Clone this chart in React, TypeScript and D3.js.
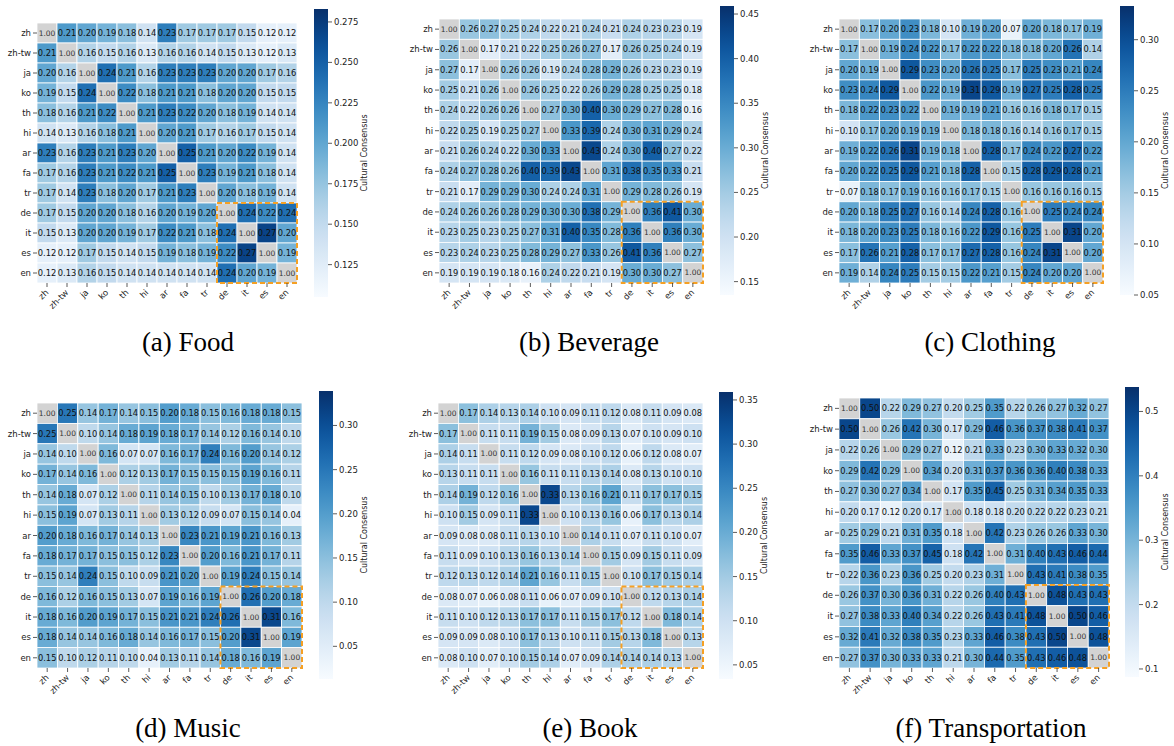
import * as d3 from 'd3';

// languages on both axes
const languages = ['zh', 'zh-tw', 'ja', 'ko', 'th', 'hi', 'ar', 'fa', 'tr', 'de', 'it', 'es', 'en'];
const highlighted = ['de', 'it', 'es', 'en'];

const foodValues = [
  [1.00, 0.21, 0.20, 0.19, 0.18, 0.14, 0.23, 0.17, 0.17, 0.17, 0.15, 0.12, 0.12],
  [0.21, 1.00, 0.16, 0.15, 0.16, 0.13, 0.16, 0.16, 0.14, 0.15, 0.13, 0.12, 0.13],
  [0.20, 0.16, 1.00, 0.24, 0.21, 0.16, 0.23, 0.23, 0.23, 0.20, 0.20, 0.17, 0.16],
  [0.19, 0.15, 0.24, 1.00, 0.22, 0.18, 0.21, 0.21, 0.18, 0.20, 0.20, 0.15, 0.15],
  [0.18, 0.16, 0.21, 0.22, 1.00, 0.21, 0.23, 0.22, 0.20, 0.18, 0.19, 0.14, 0.14],
  [0.14, 0.13, 0.16, 0.18, 0.21, 1.00, 0.20, 0.21, 0.17, 0.16, 0.17, 0.15, 0.14],
  [0.23, 0.16, 0.23, 0.21, 0.23, 0.20, 1.00, 0.25, 0.21, 0.20, 0.22, 0.19, 0.14],
  [0.17, 0.16, 0.23, 0.21, 0.22, 0.21, 0.25, 1.00, 0.23, 0.19, 0.21, 0.18, 0.14],
  [0.17, 0.14, 0.23, 0.18, 0.20, 0.17, 0.21, 0.23, 1.00, 0.20, 0.18, 0.19, 0.14],
  [0.17, 0.15, 0.20, 0.20, 0.18, 0.16, 0.20, 0.19, 0.20, 1.00, 0.24, 0.22, 0.24],
  [0.15, 0.13, 0.20, 0.20, 0.19, 0.17, 0.22, 0.21, 0.18, 0.24, 1.00, 0.27, 0.20],
  [0.12, 0.12, 0.17, 0.15, 0.14, 0.15, 0.19, 0.18, 0.19, 0.22, 0.27, 1.00, 0.19],
  [0.12, 0.13, 0.16, 0.15, 0.14, 0.14, 0.14, 0.14, 0.14, 0.24, 0.20, 0.19, 1.00],
];

const beverageValues = [
  [1.00, 0.26, 0.27, 0.25, 0.24, 0.22, 0.21, 0.24, 0.21, 0.24, 0.23, 0.23, 0.19],
  [0.26, 1.00, 0.17, 0.21, 0.22, 0.25, 0.26, 0.27, 0.17, 0.26, 0.25, 0.24, 0.19],
  [0.27, 0.17, 1.00, 0.26, 0.26, 0.19, 0.24, 0.28, 0.29, 0.26, 0.23, 0.23, 0.19],
  [0.25, 0.21, 0.26, 1.00, 0.26, 0.25, 0.22, 0.26, 0.29, 0.28, 0.25, 0.25, 0.18],
  [0.24, 0.22, 0.26, 0.26, 1.00, 0.27, 0.30, 0.40, 0.30, 0.29, 0.27, 0.28, 0.16],
  [0.22, 0.25, 0.19, 0.25, 0.27, 1.00, 0.33, 0.39, 0.24, 0.30, 0.31, 0.29, 0.24],
  [0.21, 0.26, 0.24, 0.22, 0.30, 0.33, 1.00, 0.43, 0.24, 0.30, 0.40, 0.27, 0.22],
  [0.24, 0.27, 0.28, 0.26, 0.40, 0.39, 0.43, 1.00, 0.31, 0.38, 0.35, 0.33, 0.21],
  [0.21, 0.17, 0.29, 0.29, 0.30, 0.24, 0.24, 0.31, 1.00, 0.29, 0.28, 0.26, 0.19],
  [0.24, 0.26, 0.26, 0.28, 0.29, 0.30, 0.30, 0.38, 0.29, 1.00, 0.36, 0.41, 0.30],
  [0.23, 0.25, 0.23, 0.25, 0.27, 0.31, 0.40, 0.35, 0.28, 0.36, 1.00, 0.36, 0.30],
  [0.23, 0.24, 0.23, 0.25, 0.28, 0.29, 0.27, 0.33, 0.26, 0.41, 0.36, 1.00, 0.27],
  [0.19, 0.19, 0.19, 0.18, 0.16, 0.24, 0.22, 0.21, 0.19, 0.30, 0.30, 0.27, 1.00],
];

const clothingValues = [
  [1.00, 0.17, 0.20, 0.23, 0.18, 0.10, 0.19, 0.20, 0.07, 0.20, 0.18, 0.17, 0.19],
  [0.17, 1.00, 0.19, 0.24, 0.22, 0.17, 0.22, 0.22, 0.18, 0.18, 0.20, 0.26, 0.14],
  [0.20, 0.19, 1.00, 0.29, 0.23, 0.20, 0.26, 0.25, 0.17, 0.25, 0.23, 0.21, 0.24],
  [0.23, 0.24, 0.29, 1.00, 0.22, 0.19, 0.31, 0.29, 0.19, 0.27, 0.25, 0.28, 0.25],
  [0.18, 0.22, 0.23, 0.22, 1.00, 0.19, 0.19, 0.21, 0.16, 0.16, 0.18, 0.17, 0.15],
  [0.10, 0.17, 0.20, 0.19, 0.19, 1.00, 0.18, 0.18, 0.16, 0.14, 0.16, 0.17, 0.15],
  [0.19, 0.22, 0.26, 0.31, 0.19, 0.18, 1.00, 0.28, 0.17, 0.24, 0.22, 0.27, 0.22],
  [0.20, 0.22, 0.25, 0.29, 0.21, 0.18, 0.28, 1.00, 0.15, 0.28, 0.29, 0.28, 0.21],
  [0.07, 0.18, 0.17, 0.19, 0.16, 0.16, 0.17, 0.15, 1.00, 0.16, 0.16, 0.16, 0.15],
  [0.20, 0.18, 0.25, 0.27, 0.16, 0.14, 0.24, 0.28, 0.16, 1.00, 0.25, 0.24, 0.24],
  [0.18, 0.20, 0.23, 0.25, 0.18, 0.16, 0.22, 0.29, 0.16, 0.25, 1.00, 0.31, 0.20],
  [0.17, 0.26, 0.21, 0.28, 0.17, 0.17, 0.27, 0.28, 0.16, 0.24, 0.31, 1.00, 0.20],
  [0.19, 0.14, 0.24, 0.25, 0.15, 0.15, 0.22, 0.21, 0.15, 0.24, 0.20, 0.20, 1.00],
];

const musicValues = [
  [1.00, 0.25, 0.14, 0.17, 0.14, 0.15, 0.20, 0.18, 0.15, 0.16, 0.18, 0.18, 0.15],
  [0.25, 1.00, 0.10, 0.14, 0.18, 0.19, 0.18, 0.17, 0.14, 0.12, 0.16, 0.14, 0.10],
  [0.14, 0.10, 1.00, 0.16, 0.07, 0.07, 0.16, 0.17, 0.24, 0.16, 0.20, 0.14, 0.12],
  [0.17, 0.14, 0.16, 1.00, 0.12, 0.13, 0.17, 0.15, 0.15, 0.15, 0.19, 0.16, 0.11],
  [0.14, 0.18, 0.07, 0.12, 1.00, 0.11, 0.14, 0.15, 0.10, 0.13, 0.17, 0.18, 0.10],
  [0.15, 0.19, 0.07, 0.13, 0.11, 1.00, 0.13, 0.12, 0.09, 0.07, 0.15, 0.14, 0.04],
  [0.20, 0.18, 0.16, 0.17, 0.14, 0.13, 1.00, 0.23, 0.21, 0.19, 0.21, 0.16, 0.13],
  [0.18, 0.17, 0.17, 0.15, 0.15, 0.12, 0.23, 1.00, 0.20, 0.16, 0.21, 0.17, 0.11],
  [0.15, 0.14, 0.24, 0.15, 0.10, 0.09, 0.21, 0.20, 1.00, 0.19, 0.24, 0.15, 0.14],
  [0.16, 0.12, 0.16, 0.15, 0.13, 0.07, 0.19, 0.16, 0.19, 1.00, 0.26, 0.20, 0.18],
  [0.18, 0.16, 0.20, 0.19, 0.17, 0.15, 0.21, 0.21, 0.24, 0.26, 1.00, 0.31, 0.16],
  [0.18, 0.14, 0.14, 0.16, 0.18, 0.14, 0.16, 0.17, 0.15, 0.20, 0.31, 1.00, 0.19],
  [0.15, 0.10, 0.12, 0.11, 0.10, 0.04, 0.13, 0.11, 0.14, 0.18, 0.16, 0.19, 1.00],
];

const bookValues = [
  [1.00, 0.17, 0.14, 0.13, 0.14, 0.10, 0.09, 0.11, 0.12, 0.08, 0.11, 0.09, 0.08],
  [0.17, 1.00, 0.11, 0.11, 0.19, 0.15, 0.08, 0.09, 0.13, 0.07, 0.10, 0.09, 0.10],
  [0.14, 0.11, 1.00, 0.11, 0.12, 0.09, 0.08, 0.10, 0.12, 0.06, 0.12, 0.08, 0.07],
  [0.13, 0.11, 0.11, 1.00, 0.16, 0.11, 0.11, 0.13, 0.14, 0.08, 0.13, 0.10, 0.10],
  [0.14, 0.19, 0.12, 0.16, 1.00, 0.33, 0.13, 0.16, 0.21, 0.11, 0.17, 0.17, 0.15],
  [0.10, 0.15, 0.09, 0.11, 0.33, 1.00, 0.10, 0.13, 0.16, 0.06, 0.17, 0.13, 0.14],
  [0.09, 0.08, 0.08, 0.11, 0.13, 0.10, 1.00, 0.14, 0.11, 0.07, 0.11, 0.10, 0.07],
  [0.11, 0.09, 0.10, 0.13, 0.16, 0.13, 0.14, 1.00, 0.15, 0.09, 0.15, 0.11, 0.09],
  [0.12, 0.13, 0.12, 0.14, 0.21, 0.16, 0.11, 0.15, 1.00, 0.10, 0.17, 0.15, 0.14],
  [0.08, 0.07, 0.06, 0.08, 0.11, 0.06, 0.07, 0.09, 0.10, 1.00, 0.12, 0.13, 0.14],
  [0.11, 0.10, 0.12, 0.13, 0.17, 0.17, 0.11, 0.15, 0.17, 0.12, 1.00, 0.18, 0.14],
  [0.09, 0.09, 0.08, 0.10, 0.17, 0.13, 0.10, 0.11, 0.15, 0.13, 0.18, 1.00, 0.13],
  [0.08, 0.10, 0.07, 0.10, 0.15, 0.14, 0.07, 0.09, 0.14, 0.14, 0.14, 0.13, 1.00],
];

const transportValues = [
  [1.00, 0.50, 0.22, 0.29, 0.27, 0.20, 0.25, 0.35, 0.22, 0.26, 0.27, 0.32, 0.27],
  [0.50, 1.00, 0.26, 0.42, 0.30, 0.17, 0.29, 0.46, 0.36, 0.37, 0.38, 0.41, 0.37],
  [0.22, 0.26, 1.00, 0.29, 0.27, 0.12, 0.21, 0.33, 0.23, 0.30, 0.33, 0.32, 0.30],
  [0.29, 0.42, 0.29, 1.00, 0.34, 0.20, 0.31, 0.37, 0.36, 0.36, 0.40, 0.38, 0.33],
  [0.27, 0.30, 0.27, 0.34, 1.00, 0.17, 0.35, 0.45, 0.25, 0.31, 0.34, 0.35, 0.33],
  [0.20, 0.17, 0.12, 0.20, 0.17, 1.00, 0.18, 0.18, 0.20, 0.22, 0.22, 0.23, 0.21],
  [0.25, 0.29, 0.21, 0.31, 0.35, 0.18, 1.00, 0.42, 0.23, 0.26, 0.26, 0.33, 0.30],
  [0.35, 0.46, 0.33, 0.37, 0.45, 0.18, 0.42, 1.00, 0.31, 0.40, 0.43, 0.46, 0.44],
  [0.22, 0.36, 0.23, 0.36, 0.25, 0.20, 0.23, 0.31, 1.00, 0.43, 0.41, 0.38, 0.35],
  [0.26, 0.37, 0.30, 0.36, 0.31, 0.22, 0.26, 0.40, 0.43, 1.00, 0.48, 0.43, 0.43],
  [0.27, 0.38, 0.33, 0.40, 0.34, 0.22, 0.26, 0.43, 0.41, 0.48, 1.00, 0.50, 0.46],
  [0.32, 0.41, 0.32, 0.38, 0.35, 0.23, 0.33, 0.46, 0.38, 0.43, 0.50, 1.00, 0.48],
  [0.27, 0.37, 0.30, 0.33, 0.33, 0.21, 0.30, 0.44, 0.35, 0.43, 0.46, 0.48, 1.00],
];

const captions = ['(a) Food', '(b) Beverage', '(c) Clothing', '(d) Music', '(e) Book', '(f) Transportation'];
const colorDomains = [
  [0.105, 0.283],
  [0.135, 0.459],
  [0.05, 0.333],
  [0.013, 0.339],
  [0.034, 0.359],
  [0.0875, 0.538],
];
const colorTicks = [
  [0.125, 0.15, 0.175, 0.2, 0.225, 0.25, 0.275],
  [0.15, 0.2, 0.25, 0.3, 0.35, 0.4, 0.45],
  [0.05, 0.1, 0.15, 0.2, 0.25, 0.3],
  [0.05, 0.1, 0.15, 0.2, 0.25, 0.3],
  [0.05, 0.1, 0.15, 0.2, 0.25, 0.3, 0.35],
  [0.1, 0.2, 0.3, 0.4, 0.5],
];
const tickFormats = ['.3f', '.2f', '.2f', '.2f', '.2f', '.1f'];
const matrices = [foodValues, beverageValues, clothingValues, musicValues, bookValues, transportValues];

// where each panel sits on the page
const layout = [
  { gx: 37, gy: 23, size: 260, cbx: 314, cby: 9, cbh: 288, capX: 188, capY: 351 },
  { gx: 439, gy: 19, size: 264, cbx: 720, cby: 6, cbh: 289, capX: 589, capY: 351 },
  { gx: 839, gy: 19, size: 264, cbx: 1120, cby: 6, cbh: 289, capX: 990, capY: 351 },
  { gx: 37, gy: 403, size: 265, cbx: 319, cby: 391, cbh: 288, capX: 188, capY: 737 },
  { gx: 438, gy: 403, size: 265, cbx: 719, cby: 392, cbh: 287, capX: 590, capY: 737 },
  { gx: 839, gy: 398, size: 270, cbx: 1125, cby: 387, cbh: 290, capX: 991, capY: 737 },
];

const FONT = 'DejaVu Sans, sans-serif';

function Heatmap({ idx }: { idx: number }) {
  const m = matrices[idx];
  const L = layout[idx];
  const [vmin, vmax] = colorDomains[idx];
  const color = d3.scaleSequential(d3.interpolateBlues).domain([vmin, vmax]);
  const band = d3.scaleBand().domain(languages).range([0, L.size]);
  const bw = band.bandwidth();
  const fmt = d3.format(tickFormats[idx]);
  const cbw = 14;
  const cbScale = d3.scaleLinear().domain([vmin, vmax]).range([L.cby + L.cbh, L.cby]);
  const gradId = `grad${idx}`;
  const stops = d3.range(0, 1.0001, 0.05);
  const labelChars = fmt(colorTicks[idx][0]).length;
  const hx = band(highlighted[0])!;

  return (
    <g>
      <defs>
        <linearGradient id={gradId} x1="0" y1="1" x2="0" y2="0">
          {stops.map(t => (
            <stop key={t} offset={t} stopColor={d3.interpolateBlues(t)} />
          ))}
        </linearGradient>
      </defs>
      <g transform={`translate(${L.gx},${L.gy})`}>
        {m.map((row, i) =>
          row.map((v, j) => {
            const x = band(languages[j])!;
            const y = band(languages[i])!;
            const diag = i === j;
            return (
              <g key={`${i}-${j}`}>
                <rect x={x} y={y} width={bw} height={bw} fill={diag ? '#d3d3d3' : color(v)} stroke="#fff" strokeWidth={0.8} />
                <text
                  x={x + bw / 2}
                  y={y + bw / 2}
                  textAnchor="middle"
                  dominantBaseline="central"
                  fontFamily={FONT}
                  fontSize={diag ? 7.5 : 8.3}
                  fill={diag ? '#333' : '#111'}
                >
                  {d3.format('.2f')(v)}
                </text>
              </g>
            );
          })
        )}
        <rect
          x={hx}
          y={hx}
          width={L.size - hx}
          height={L.size - hx}
          fill="none"
          stroke="#f5a024"
          strokeWidth={2}
          strokeDasharray="5,3"
        />
        {languages.map(l => (
          <g key={'r' + l}>
            <line x1={-4} x2={0} y1={band(l)! + bw / 2} y2={band(l)! + bw / 2} stroke="#333" strokeWidth={0.8} />
            <text x={-6} y={band(l)! + bw / 2} textAnchor="end" dominantBaseline="central" fontFamily={FONT} fontSize={8.5} fill="#222">
              {l}
            </text>
          </g>
        ))}
        {languages.map(l => {
          const cx = band(l)! + bw / 2;
          return (
            <g key={'c' + l}>
              <line x1={cx} x2={cx} y1={L.size} y2={L.size + 4} stroke="#333" strokeWidth={0.8} />
              <text
                transform={`translate(${cx + 2},${L.size + 10}) rotate(-45)`}
                textAnchor="end"
                fontFamily={FONT}
                fontSize={8.5}
                fill="#222"
              >
                {l}
              </text>
            </g>
          );
        })}
      </g>
      <rect x={L.cbx} y={L.cby} width={cbw} height={L.cbh} fill={`url(#${gradId})`} />
      {colorTicks[idx].map(t => (
        <g key={'t' + t}>
          <line x1={L.cbx + cbw} x2={L.cbx + cbw + 4} y1={cbScale(t)} y2={cbScale(t)} stroke="#333" strokeWidth={0.8} />
          <text x={L.cbx + cbw + 6} y={cbScale(t)} dominantBaseline="central" fontFamily={FONT} fontSize={8.5} fill="#222">
            {fmt(t)}
          </text>
        </g>
      ))}
      <text
        transform={`translate(${L.cbx + cbw + 11 + labelChars * 5},${L.cby + L.cbh / 2}) rotate(-90)`}
        textAnchor="middle"
        dominantBaseline="central"
        fontFamily={FONT}
        fontSize={8}
        fill="#222"
      >
        Cultural Consensus
      </text>
      <text x={L.capX} y={L.capY} textAnchor="middle" fontFamily="Liberation Serif, Times New Roman, serif" fontSize={27} fill="#000">
        {captions[idx]}
      </text>
    </g>
  );
}

export default function App() {
  return (
    <svg width={1174} height={746} style={{ position: 'absolute', left: 0, top: 0, background: '#fff' }}>
      {captions.map((_, i) => (
        <Heatmap key={i} idx={i} />
      ))}
    </svg>
  );
}
